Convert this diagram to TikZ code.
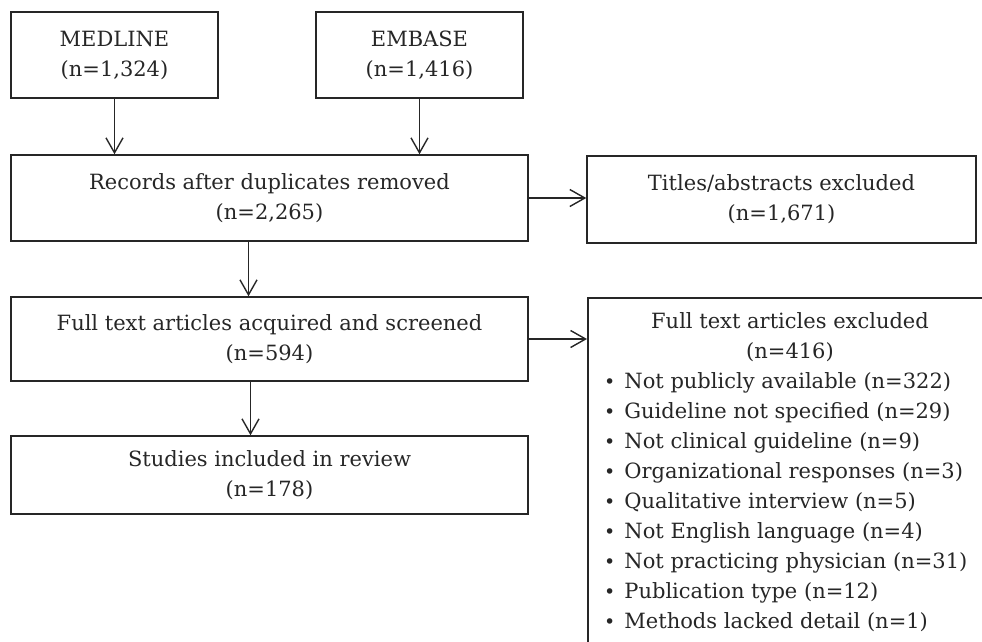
\documentclass[tikz,border=0pt]{standalone}
\usepackage{fontspec}
\setmainfont{DejaVu Serif}
\usetikzlibrary{arrows.meta}
\definecolor{ink}{HTML}{262626}
\newcommand{\bulletmark}{{\fontsize{19}{30}\selectfont•}\hspace{9pt}}
\begin{document}
\begin{tikzpicture}[x=1pt,y=-1pt,
  box/.style={draw=ink, line width=1.5pt, rectangle, align=center, text=ink,
    inner sep=0pt, font=\fontsize{21}{30}\selectfont},
  arr/.style={draw=ink, line width=1.4pt, -{Straight Barb[length=15pt,width=17pt,line width=1.4pt]}},
  txt/.style={text=ink, inner sep=0pt, font=\fontsize{21}{30}\selectfont}]
\useasboundingbox (0,0) rectangle (982,641);
\clip (0,0) rectangle (982,641);
\node[box, minimum width=207pt, minimum height=86pt] (med) at (114.5,55) {MEDLINE\\(n=1,324)};
\node[box, minimum width=207pt, minimum height=86pt] (emb) at (419.5,55) {EMBASE\\(n=1,416)};
\node[box, minimum width=517pt, minimum height=86pt] (rec) at (269.5,198) {Records after duplicates removed\\(n=2,265)};
\node[box, minimum width=389pt, minimum height=87pt] (tit) at (781.5,199.5) {Titles/abstracts excluded\\(n=1,671)};
\node[box, minimum width=517pt, minimum height=84pt] (full) at (269.5,339) {Full text articles acquired and screened\\(n=594)};
\node[box, minimum width=517pt, minimum height=78pt] (stu) at (269.5,475) {Studies included in review\\(n=178)};
\node[box, minimum width=430pt, minimum height=380pt, anchor=north west] (exc) at (587,297) {};
\node[txt, align=center, anchor=north] (exh) at (790,312) {Full text articles excluded\\(n=416)};
\node[txt, align=left, anchor=north west] (exl) at (604,372) {%
\bulletmark Not publicly available (n=322)\\
\bulletmark Guideline not specified (n=29)\\
\bulletmark Not clinical guideline (n=9)\\
\bulletmark Organizational responses (n=3)\\
\bulletmark Qualitative interview (n=5)\\
\bulletmark Not English language (n=4)\\
\bulletmark Not practicing physician (n=31)\\
\bulletmark Publication type (n=12)\\
\bulletmark Methods lacked detail (n=1)};
\draw[arr] (med.south) -- (med.south |- rec.north);
\draw[arr] (emb.south) -- (emb.south |- rec.north);
\draw[arr] (rec.east) -- (rec.east -| tit.west);
\draw[arr] ([xshift=-21pt]rec.south) -- ([xshift=-21pt]rec.south |- full.north);
\draw[arr] ([xshift=-19pt]full.south) -- ([xshift=-19pt]full.south |- stu.north);
\draw[arr] (full.east) -- (full.east -| exc.west);
\end{tikzpicture}
\end{document}
